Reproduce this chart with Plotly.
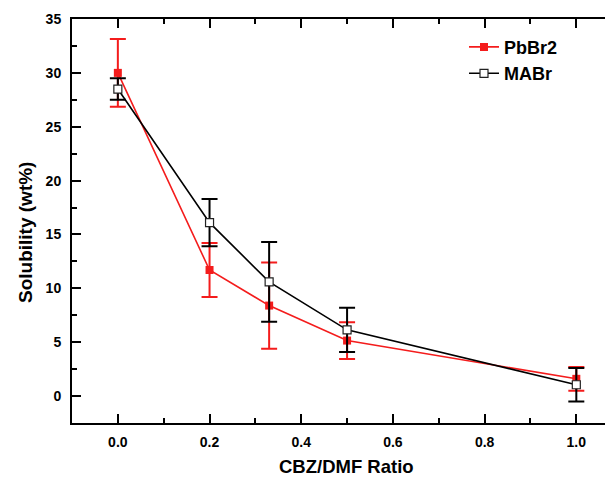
import plotly.graph_objects as go

ratio = [0.0, 0.2, 0.33, 0.5, 1.0]
pbbr2 = [30.0, 11.7, 8.4, 5.15, 1.6]
pbbr2_err = [3.15, 2.5, 4.0, 1.7, 1.1]
mabr = [28.5, 16.1, 10.6, 6.15, 1.05]
mabr_err = [1.0, 2.2, 3.7, 2.05, 1.55]

FONT = "Liberation Sans, Arial, sans-serif"
RED = "#f41c1c"

# page has an 8px body margin; figure coords = screen coords - 8
W, H = 605, 471
L, T, R, B = 64, 11, 0, 56
pw, ph = W - L - R, H - T - B

fig = go.Figure()
fig.add_trace(go.Scatter(
    x=ratio, y=pbbr2, name="PbBr2", mode="lines+markers",
    line=dict(color=RED, width=1.6),
    marker=dict(symbol="square", size=8, color=RED),
    error_y=dict(type="data", array=pbbr2_err, color=RED, thickness=2, width=8),
))
fig.add_trace(go.Scatter(
    x=ratio, y=mabr, name="MABr", mode="lines+markers",
    line=dict(color="black", width=1.6),
    marker=dict(symbol="square", size=8, color="white", line=dict(color="#222", width=1.2)),
    error_y=dict(type="data", array=mabr_err, color="black", thickness=2, width=8),
))

fig.update_layout(
    width=W, height=H,
    margin=dict(l=L, r=R, t=T, b=B),
    paper_bgcolor="white", plot_bgcolor="white",
    font=dict(family=FONT, size=14, color="black", weight="bold"),
    showlegend=True,
    legend=dict(x=392 / pw, y=0.976, xanchor="left", yanchor="top",
                font=dict(size=18, family=FONT, weight="bold"),
                bgcolor="rgba(0,0,0,0)", tracegroupgap=0),
)
fig.add_annotation(text="CBZ/DMF Ratio", xref="paper", yref="paper",
                   x=(338 - L) / pw, y=(H - B - 458) / ph, xanchor="center", yanchor="middle",
                   showarrow=False, borderpad=0, font=dict(size=18.5, family=FONT, weight="bold"))
fig.add_annotation(text="Solubility (wt%)", textangle=-90, xref="paper", yref="paper",
                   x=(17 - L) / pw, y=(H - B - 225) / ph, xanchor="center", yanchor="middle",
                   showarrow=False, font=dict(size=19, family=FONT, weight="bold"))

fig.update_xaxes(
    range=[-0.1, 1.08], tickvals=[0.0, 0.2, 0.4, 0.6, 0.8, 1.0], tickformat=".1f",
    showgrid=False, zeroline=False, showline=True, linecolor="black", linewidth=2,
    ticks="inside", ticklen=9, tickwidth=2, tickcolor="black", mirror="ticks",
    minor=dict(ticks="inside", ticklen=5, tickwidth=2, tickcolor="black", dtick=0.1, tick0=0, showgrid=False),
    ticklabelstandoff=5,
)
fig.update_yaxes(
    range=[-2.5, 35], tickvals=[0, 5, 10, 15, 20, 25, 30, 35],
    showgrid=False, zeroline=False, showline=True, linecolor="black", linewidth=2,
    ticks="inside", ticklen=9, tickwidth=2, tickcolor="black", mirror=False,
    minor=dict(ticks="inside", ticklen=5, tickwidth=2, tickcolor="black", dtick=2.5, tick0=0, showgrid=False),
    ticklabelstandoff=6,
)

fig.write_html("out.html")
